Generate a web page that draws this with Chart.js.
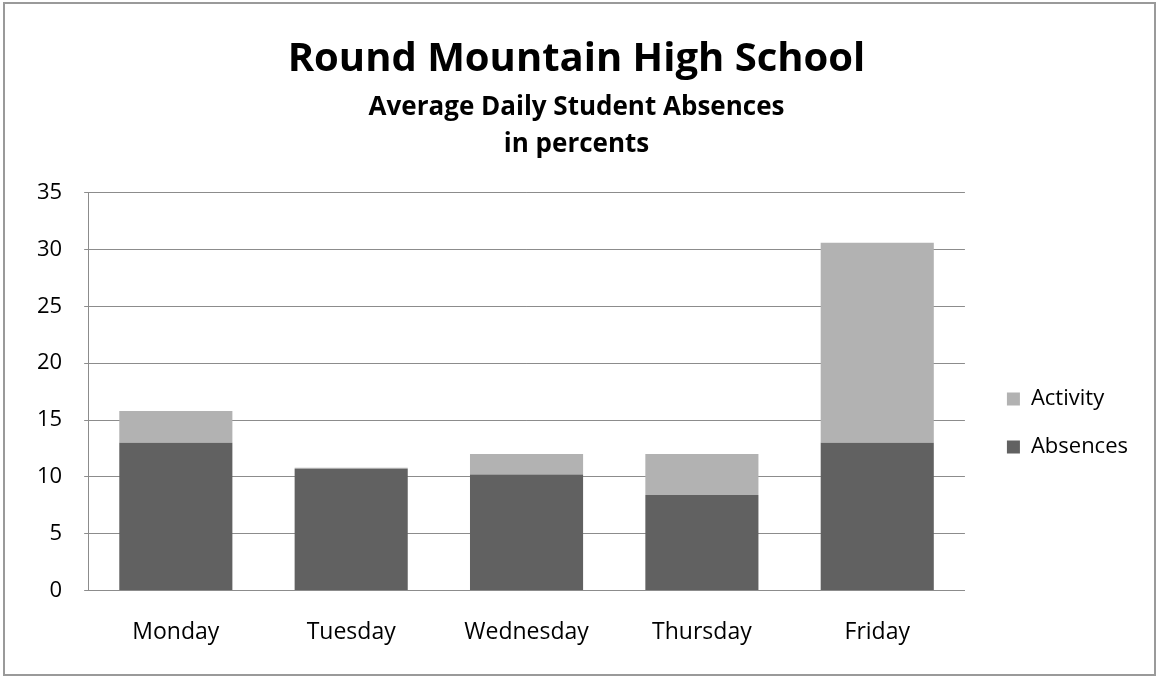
<!DOCTYPE html>
<html>
<head>
<meta charset="utf-8">
<script src="https://cdn.jsdelivr.net/npm/chart.js@4/dist/chart.umd.min.js"></script>
<style>
  html, body { margin: 0; padding: 0; background: #fff; }
  #frame { position: absolute; left: 3px; top: 2px; width: 1153px; height: 674px; border: 2px solid #9a9a9a; box-sizing: border-box; }
  #wrap { position: absolute; left: 0; top: 0; width: 1156px; height: 677px; }
</style>
</head>
<body>
<div id="wrap"><canvas id="c" width="1156" height="677"></canvas></div>
<div id="frame"></div>
<script>
const categories = ["Monday", "Tuesday", "Wednesday", "Thursday", "Friday"];
const absences = [13, 10.7, 10.2, 8.4, 13];
const activity = [2.8, 0.1, 1.8, 3.6, 17.6];
const yTicks = [0, 5, 10, 15, 20, 25, 30, 35];

const FONT = "'Open Sans', sans-serif";

new Chart(document.getElementById('c'), {
  type: 'bar',
  data: {
    labels: categories,
    datasets: [
      { label: 'Absences', data: absences, backgroundColor: '#616161', borderWidth: 0,
        barPercentage: 0.645, categoryPercentage: 1.0 },
      { label: 'Activity', data: activity, backgroundColor: '#b2b2b2', borderWidth: 0,
        barPercentage: 0.645, categoryPercentage: 1.0 }
    ]
  },
  options: {
    responsive: false,
    animation: false,
    devicePixelRatio: 1,
    layout: { padding: { top: 8, left: 15, right: 18, bottom: 3 } },
    plugins: {
      title: {
        display: true,
        text: 'Round Mountain High School',
        color: '#000',
        font: { family: FONT, size: 40, weight: 'bold', lineHeight: 1.2 },
        padding: { top: 28, bottom: 5.5 }
      },
      subtitle: {
        display: true,
        text: ['Average Daily Student Absences', 'in percents'],
        color: '#000',
        font: { family: FONT, size: 26, weight: 'bold', lineHeight: 1.42 },
        padding: { top: 0, bottom: 29.5 }
      },
      legend: {
        display: true,
        position: 'right',
        fullSize: false,
        reverse: true,
        title: { display: true, text: ' ', font: { size: 10, lineHeight: 1.2 }, padding: { top: 51, bottom: 0 } },
        labels: {
          color: '#000',
          font: { family: FONT, size: 22 },
          boxWidth: 13, boxHeight: 13,
          padding: 26
        }
      },
      tooltip: { enabled: false }
    },
    scales: {
      x: {
        stacked: true,
        grid: { display: false, drawTicks: false },
        border: { display: true, color: '#8c8c8c', width: 1 },
        ticks: { color: '#000', font: { family: FONT, size: 23 }, padding: 28 }
      },
      y: {
        stacked: true,
        min: 0, max: 35,
        afterBuildTicks: (scale) => { scale.ticks = yTicks.map(v => ({ value: v })); },
        grid: { color: '#8c8c8c', lineWidth: 1, tickLength: 4 },
        border: { display: true, color: '#8c8c8c', width: 1 },
        ticks: { color: '#000', font: { family: FONT, size: 22 }, padding: 22 }
      },
      yRight: {
        position: 'right',
        display: true,
        grid: { display: false, drawTicks: false },
        border: { display: false },
        ticks: { display: false },
        afterFit: (scale) => { scale.width = 16; }
      }
    }
  }
});
</script>
</body>
</html>
